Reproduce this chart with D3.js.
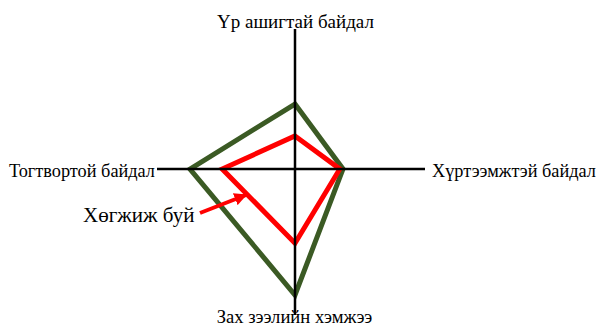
<!DOCTYPE html>
<html><head><meta charset="utf-8">
<script src="https://cdn.jsdelivr.net/npm/d3@7"></script>
<style>html,body{margin:0;padding:0;background:#fff;}svg{display:block;}text{font-family:'Liberation Serif','Times New Roman',serif;}</style>
</head><body>
<svg id="c" width="598" height="326"></svg>
<script>
const axes = ["Үр ашигтай байдал", "Хүртээмжтэй байдал", "Зах зээлийн хэмжээ", "Тогтвортой байдал"];
const outerSeries = [4.64, 3.43, 9.0, 7.5];
const innerSeries = [2.36, 3.2, 5.3, 5.2];
const annotation = "Хөгжиж буй";

const svg = d3.select("#c");
const cx = 295, cy = 169;
const r = d3.scaleLinear().domain([0, 10]).range([0, 140]);
const angle = d3.scaleOrdinal().domain(axes).range([-Math.PI/2, 0, Math.PI/2, Math.PI]);
const axisLen = [140, 130, 146, 138];
const pt = (a, v) => [cx + Math.cos(angle(a)) * r(v), cy + Math.sin(angle(a)) * r(v)];

const line = d3.line().curve(d3.curveLinearClosed);
svg.append("path").attr("d", line(axes.map((a,i)=>pt(a, outerSeries[i]))))
  .attr("fill","none").attr("stroke","#3b5a24").attr("stroke-width",5).attr("stroke-linejoin","miter");
svg.append("path").attr("d", line(axes.map((a,i)=>pt(a, innerSeries[i]))))
  .attr("fill","none").attr("stroke","#ff0000").attr("stroke-width",5).attr("stroke-linejoin","miter");

axes.forEach((a,i)=>{
  const len = axisLen[i];
  svg.append("line").attr("x1",cx).attr("y1",cy)
    .attr("x2",cx+Math.cos(angle(a))*len).attr("y2",cy+Math.sin(angle(a))*len)
    .attr("stroke","#000").attr("stroke-width",2.5);
});

const labelPos = [
  {x:295.5, y:28, anchor:"middle", size:19},
  {x:432, y:177, anchor:"start", size:18.3},
  {x:294.5, y:323, anchor:"middle", size:18.6},
  {x:155, y:177, anchor:"end", size:18.3}
];
axes.forEach((a,i)=>{
  svg.append("text").attr("x",labelPos[i].x).attr("y",labelPos[i].y)
    .attr("text-anchor",labelPos[i].anchor)
    .style("font-size",labelPos[i].size+"px").attr("fill","#000").text(a);
});

svg.append("text").attr("x",83).attr("y",222)
  .style("font-size","21px").attr("fill","#000").text(annotation);

// arrow
svg.append("defs").append("marker").attr("id","ah").attr("viewBox","0 0 10 10")
  .attr("refX",9).attr("refY",5).attr("markerWidth",3.2).attr("markerHeight",3.2)
  .attr("orient","auto").attr("markerUnits","strokeWidth")
  .append("path").attr("d","M0,0L10,5L0,10Z").attr("fill","#ff0000");
svg.append("line").attr("x1",200).attr("y1",213).attr("x2",246).attr("y2",195)
  .attr("stroke","#ff0000").attr("stroke-width",4).attr("marker-end","url(#ah)");
</script>
</body></html>
